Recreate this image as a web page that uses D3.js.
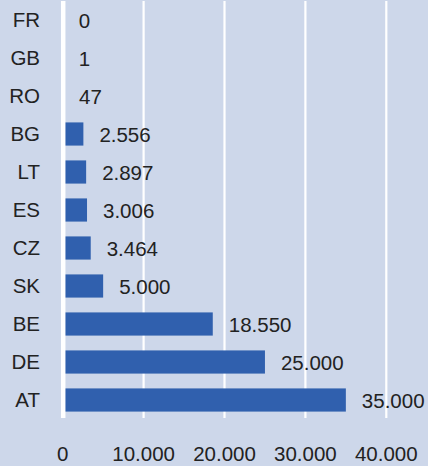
<!DOCTYPE html>
<html>
<head>
<meta charset="utf-8">
<script src="https://cdn.jsdelivr.net/npm/d3@7"></script>
<style>
  body { margin: 0; background: #cdd7ea; }
  svg { display: block; }
  text { font-family: "Liberation Sans", Arial, sans-serif; font-size: 20.5px; fill: #222; }
</style>
</head>
<body>
<script>
var width = 428, height = 466;

// countries, top to bottom
var countries = ["FR", "GB", "RO", "BG", "LT", "ES", "CZ", "SK", "BE", "DE", "AT"];
var values = [0, 1, 47, 2556, 2897, 3006, 3464, 5000, 18550, 25000, 35000];
var ticks = [0, 10000, 20000, 30000, 40000];

var locale = d3.formatLocale({decimal: ",", thousands: ".", grouping: [3], currency: ["", "€"]});
var fmt = locale.format(",d");

var data = countries.map(function(c, i) { return {name: c, value: values[i]}; });

var x = d3.scaleLinear().domain([0, 40000]).range([62.7, 386.3]);
var y = d3.scaleBand().domain(countries).range([1, 419]).paddingInner(0.39).paddingOuter(0.195);

var svg = d3.select("body").append("svg")
  .attr("width", width)
  .attr("height", height);

svg.append("rect")
  .attr("width", width)
  .attr("height", height)
  .attr("fill", "#cdd7ea");

// gridlines
svg.append("g")
  .selectAll("line")
  .data(ticks.slice(1))
  .enter()
  .append("line")
  .attr("x1", function(d) { return x(d); })
  .attr("x2", function(d) { return x(d); })
  .attr("y1", 1)
  .attr("y2", 418)
  .attr("stroke", "#fff")
  .attr("stroke-width", 2.2);

// bars
svg.append("g")
  .selectAll("rect")
  .data(data)
  .enter()
  .append("rect")
  .attr("x", x(0))
  .attr("y", function(d) { return y(d.name); })
  .attr("width", function(d) { return x(d.value) - x(0); })
  .attr("height", y.bandwidth())
  .attr("fill", "#3060ae");

// zero line on top
svg.append("line")
  .attr("x1", x(0) + 0.5)
  .attr("x2", x(0) + 0.5)
  .attr("y1", 1)
  .attr("y2", 418)
  .attr("stroke", "#fff")
  .attr("stroke-width", 4.5);

// category labels
svg.append("g")
  .selectAll("text")
  .data(data)
  .enter()
  .append("text")
  .attr("x", 40)
  .attr("y", function(d) { return y(d.name) + y.bandwidth() / 2; })
  .attr("dy", "0.35em")
  .attr("text-anchor", "end")
  .text(function(d) { return d.name; });

// value labels
svg.append("g")
  .selectAll("text")
  .data(data)
  .enter()
  .append("text")
  .attr("x", function(d) { return x(d.value) + 16; })
  .attr("y", function(d) { return y(d.name) + y.bandwidth() / 2 + 1; })
  .attr("dy", "0.35em")
  .text(function(d) { return fmt(d.value); });

// x tick labels
svg.append("g")
  .selectAll("text")
  .data(ticks)
  .enter()
  .append("text")
  .attr("x", function(d) { return x(d); })
  .attr("y", 454)
  .attr("dy", "0.35em")
  .attr("text-anchor", "middle")
  .text(function(d) { return fmt(d); });
</script>
</body>
</html>
